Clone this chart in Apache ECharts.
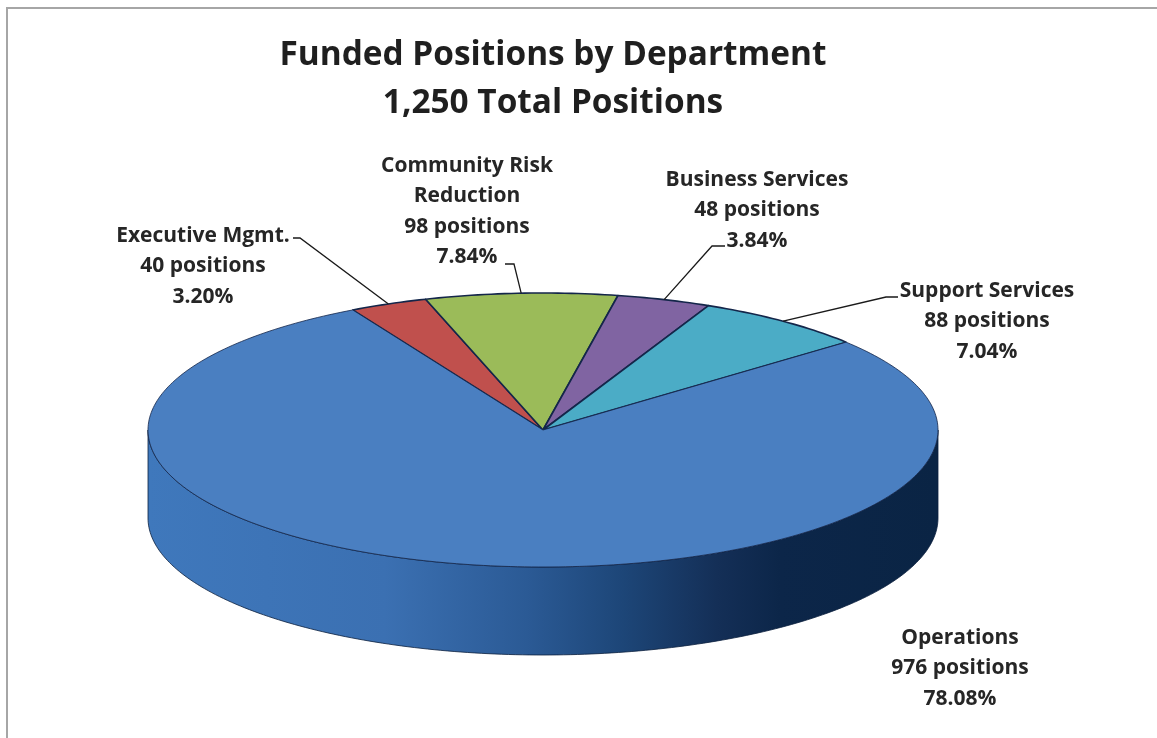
<!DOCTYPE html>
<html>
<head>
<meta charset="utf-8">
<script src="https://cdn.jsdelivr.net/npm/echarts@6/dist/echarts.min.js"></script>
<style>
html,body{margin:0;padding:0;background:#fff;}
#chart{width:1157px;height:738px;}
</style>
</head>
<body>
<div id="chart"></div>
<script>
// ---- data ----
const titleLines = ['Funded Positions by Department', '1,250 Total Positions'];
const categories = ['Executive Mgmt.', 'Community Risk Reduction', 'Business Services', 'Support Services', 'Operations'];
const categoryLines = [['Executive Mgmt.'], ['Community Risk', 'Reduction'], ['Business Services'], ['Support Services'], ['Operations']];
const positions = [40, 98, 48, 88, 976];

// ---- layout / style ----
const CX = 543, CY = 430, RX = 395, RY = 137, DEPTH = 88;
const START_DEG = -28.8; // clockwise from 12 o'clock
const colors = ['#c0504d', '#9bbb59', '#8064a2', '#4bacc6', '#4a7fc1'];
const FONT = '"Open Sans", Lato, sans-serif';
const LINE_H = 30.5;
// label block: center x, first-line center y, leader start (two points) or null
const labelLayout = [
  { x: 203, y: 236, leader: [[293, 238], [300, 238]] },
  { x: 467, y: 166, leader: [[505, 264], [514, 264]] },
  { x: 757, y: 180, leader: [[725, 246], [712, 246]] },
  { x: 987, y: 291, leader: [[898, 297], [886, 297]] },
  { x: 960, y: 638, leader: null }
];

const total = positions.reduce((a, b) => a + b, 0);
const cum = [];
positions.reduce((acc, v, i) => { cum[i] = acc; return acc + v; }, 0);

function pt(theta, dy) {
  return [CX + RX * Math.sin(theta), CY - RY * Math.cos(theta) + (dy || 0)];
}
function arc(a0, a1, dy) {
  const n = Math.max(2, Math.ceil(Math.abs(a1 - a0) / (Math.PI / 180)));
  const out = [];
  for (let k = 0; k <= n; k++) out.push(pt(a0 + (a1 - a0) * k / n, dy));
  return out;
}

const sideGradient = {
  type: 'linear', x: CX - RX, y: 0, x2: CX + RX, y2: 0, global: true,
  colorStops: [
    { offset: 0, color: '#3f78bc' },
    { offset: 0.3, color: '#3b70b2' },
    { offset: 0.48, color: '#2b5a95' },
    { offset: 0.6, color: '#1d4678' },
    { offset: 0.72, color: '#142f57' },
    { offset: 0.8, color: '#0c2649' },
    { offset: 1, color: '#0a2444' }
  ]
};

function renderItem(params, api) {
  const i = params.dataIndex;
  const v = api.value(0);
  const start = START_DEG * Math.PI / 180;
  const a0 = start + cum[i] / total * Math.PI * 2;
  const a1 = a0 + v / total * Math.PI * 2;
  const children = [];
  // visible front side portions
  for (let k = -1; k <= 1; k++) {
    const lo = Math.max(a0, Math.PI / 2 + 2 * Math.PI * k);
    const hi = Math.min(a1, 3 * Math.PI / 2 + 2 * Math.PI * k);
    if (lo < hi) {
      const top = arc(lo, hi, 0);
      const bot = arc(lo, hi, DEPTH).reverse();
      children.push({
        type: 'polygon', z2: 1,
        shape: { points: top.concat(bot) },
        style: { fill: i === 4 ? sideGradient : colors[i], stroke: '#0b1f3d', lineWidth: 0.8 }
      });
    }
  }
  // top face
  const pts = [[CX, CY]].concat(arc(a0, a1, 0));
  children.push({
    type: 'polygon', z2: 10,
    shape: { points: pts },
    style: { fill: colors[i], stroke: '#14264a', lineWidth: i === 4 ? 0.8 : 1.6, lineJoin: 'round' }
  });
  // label
  const L = labelLayout[i];
  const pct = (v / total * 100).toFixed(2) + '%';
  const lines = categoryLines[i].concat([v + ' positions', pct]);
  children.push({
    type: 'text', z2: 20,
    style: {
      text: lines.join('\n'), x: L.x, y: L.y - LINE_H / 2,
      align: 'center', verticalAlign: 'top', lineHeight: LINE_H,
      fill: '#262626', fontFamily: FONT, fontWeight: 'bold', fontSize: 21
    }
  });
  if (L.leader) {
    const mid = (a0 + a1) / 2;
    children.push({
      type: 'polyline', z2: 20,
      shape: { points: L.leader.concat([pt(mid, 0)]) },
      style: { stroke: '#1a1a1a', lineWidth: 1.3, fill: null }
    });
  }
  return { type: 'group', children: children };
}

const chart = echarts.init(document.getElementById('chart'), null, { renderer: 'canvas' });
chart.setOption({
  backgroundColor: '#ffffff',
  animation: false,
  graphic: [
    { type: 'rect', shape: { x: 7, y: 8, width: 1170, height: 760 }, style: { fill: null, stroke: '#a6a6a6', lineWidth: 2 }, z: 0 },
    { type: 'text', style: { text: titleLines[0], x: 553, y: 55, align: 'center', verticalAlign: 'middle', fill: '#1f1f1f', fontFamily: FONT, fontWeight: 'bold', fontSize: 33.4 }, z: 5 },
    { type: 'text', style: { text: titleLines[1], x: 553, y: 103, align: 'center', verticalAlign: 'middle', fill: '#1f1f1f', fontFamily: FONT, fontWeight: 'bold', fontSize: 33.4 }, z: 5 }
  ],
  series: [{
    type: 'custom',
    coordinateSystem: 'none',
    renderItem: renderItem,
    data: positions.map((v, i) => ({ name: categories[i], value: [v] }))
  }]
});
</script>
</body>
</html>
